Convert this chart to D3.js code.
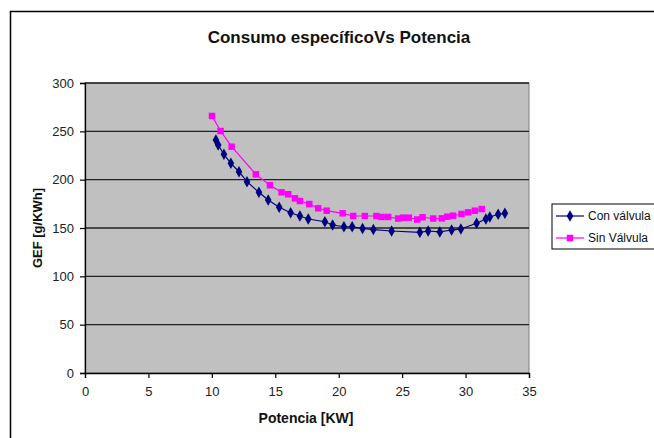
<!DOCTYPE html>
<html>
<head>
<meta charset="utf-8">
<script src="https://cdn.jsdelivr.net/npm/d3@7"></script>
<style>
  html, body { margin: 0; padding: 0; background: #ffffff; }
  svg { display: block; font-family: "Liberation Sans", Arial, sans-serif; }
</style>
</head>
<body>
<svg id="chart" width="654" height="438"></svg>
<script>
// Specific consumption (g/kWh) vs. power (kW), with and without valve
const conPotencia = [10.32, 10.50, 10.95, 11.50, 12.14, 12.77, 13.71, 14.44, 15.31, 16.21,
  16.94, 17.60, 18.91, 19.52, 20.41, 21.06, 21.88, 22.73, 24.17, 26.40,
  27.05, 27.97, 28.90, 29.63, 30.87, 31.60, 31.91, 32.57, 33.10];
const conGEF = [241.0, 235.9, 226.2, 216.9, 208.2, 197.9, 186.9, 179.0, 171.4, 165.8,
  162.4, 159.3, 156.5, 153.1, 151.3, 151.3, 149.5, 148.4, 146.9, 145.5,
  146.9, 145.9, 147.9, 149.0, 154.9, 159.3, 161.4, 164.2, 165.2];

const sinPotencia = [10.01, 10.69, 11.56, 13.47, 14.58, 15.50, 16.02, 16.55, 16.94, 17.68,
  18.38, 19.05, 20.31, 21.14, 22.06, 22.97, 23.38, 23.90, 24.69, 25.08,
  25.53, 26.19, 26.61, 27.45, 28.13, 28.55, 29.02, 29.68, 30.20, 30.73, 31.28];
const sinGEF = [265.9, 250.3, 234.1, 205.5, 194.2, 186.9, 184.9, 180.7, 177.9, 174.8,
  170.4, 167.9, 165.2, 162.4, 162.4, 162.4, 161.4, 161.4, 159.8, 160.7,
  160.7, 158.8, 161.1, 159.8, 160.0, 161.7, 162.7, 164.5, 166.2, 167.9, 169.6];

const xTicks = [0, 5, 10, 15, 20, 25, 30, 35];
const yTicks = [0, 50, 100, 150, 200, 250, 300];
const seriesNames = ["Con válvula", "Sin Válvula"];
const seriesColors = ["#000080", "#ff00ff"];

const svg = d3.select("#chart");

// outer chart frame
svg.append("path")
  .attr("d", "M10.5,438 V11.5 H654")
  .attr("fill", "none").attr("stroke", "#000").attr("stroke-width", 1.5);

const plot = { left: 85, right: 529, top: 83, bottom: 373 };
const x = d3.scaleLinear().domain([0, 35]).range([plot.left, plot.right]);
const y = d3.scaleLinear().domain([0, 300]).range([plot.bottom, plot.top]);

// plot area background
svg.append("rect")
  .attr("x", plot.left).attr("y", plot.top)
  .attr("width", plot.right - plot.left).attr("height", plot.bottom - plot.top)
  .attr("fill", "#c0c0c0").attr("stroke", "#808080").attr("stroke-width", 1);

// horizontal gridlines
svg.append("g").selectAll("line").data(yTicks.filter(d => d > 0)).join("line")
  .attr("x1", plot.left).attr("x2", plot.right)
  .attr("y1", d => y(d)).attr("y2", d => y(d))
  .attr("stroke", "#222").attr("stroke-width", 1.3);

// axes
const yAxis = svg.append("g").attr("transform", `translate(${plot.left},0)`)
  .call(d3.axisLeft(y).tickValues(yTicks).tickSize(5).tickPadding(6));
const xAxis = svg.append("g").attr("transform", `translate(0,${plot.bottom})`)
  .call(d3.axisBottom(x).tickValues(xTicks).tickSize(5).tickPadding(9));
[yAxis, xAxis].forEach(g => {
  g.select(".domain").attr("stroke", "#000").attr("stroke-width", 1.3);
  g.selectAll(".tick line").attr("stroke", "#000").attr("stroke-width", 1.2);
  g.selectAll(".tick text").attr("fill", "#222").style("font-size", "13px")
    .style("font-family", "'Liberation Sans', Arial, sans-serif");
});

// title and axis titles
svg.append("text").attr("x", 339).attr("y", 43).attr("text-anchor", "middle")
  .style("font-size", "17px").style("font-weight", "bold").attr("fill", "#111")
  .text("Consumo específicoVs Potencia");
svg.append("text").attr("x", 306).attr("y", 423).attr("text-anchor", "middle")
  .style("font-size", "14px").style("font-weight", "bold").attr("fill", "#111")
  .text("Potencia [KW]");
svg.append("text").attr("transform", "translate(42,228) rotate(-90)")
  .attr("text-anchor", "middle")
  .style("font-size", "13px").style("font-weight", "bold").attr("fill", "#111")
  .text("GEF [g/KWh]");

const line = d3.line().x(d => x(d[0])).y(d => y(d[1]));
const conData = d3.zip(conPotencia, conGEF);
const sinData = d3.zip(sinPotencia, sinGEF);

const diamond = d3.symbol().type(d3.symbolDiamond).size(38);
const square = d3.symbol().type(d3.symbolSquare).size(42);

function drawSeries(data, color, sym) {
  svg.append("path").datum(data).attr("d", line)
    .attr("fill", "none").attr("stroke", color).attr("stroke-width", 1.2);
  svg.append("g").selectAll("path").data(data).join("path")
    .attr("d", sym)
    .attr("transform", d => `translate(${x(d[0])},${y(d[1])})`)
    .attr("fill", color);
}
drawSeries(sinData, seriesColors[1], square);
drawSeries(conData, seriesColors[0], diamond);

// legend (box runs past the right edge of the chart frame)
const legend = svg.append("g");
legend.append("rect").attr("x", 552).attr("y", 204).attr("width", 120).attr("height", 45)
  .attr("fill", "#fff").attr("stroke", "#000").attr("stroke-width", 1);
const syms = [diamond, square];
seriesNames.forEach((name, i) => {
  const ly = 216 + i * 22;
  legend.append("line").attr("x1", 556).attr("x2", 584).attr("y1", ly).attr("y2", ly)
    .attr("stroke", seriesColors[i]).attr("stroke-width", 1.2);
  legend.append("path").attr("d", syms[i]).attr("transform", `translate(570,${ly})`)
    .attr("fill", seriesColors[i]);
  legend.append("text").attr("x", 588).attr("y", ly + 4)
    .style("font-size", "12px").attr("fill", "#111").text(name);
});
</script>
</body>
</html>
